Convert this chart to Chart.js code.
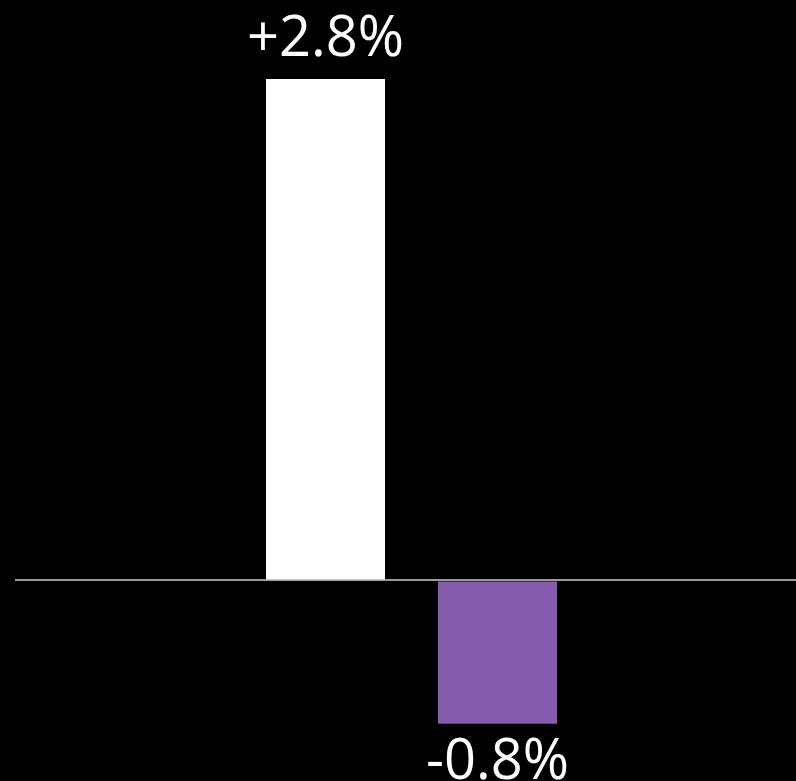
<!DOCTYPE html>
<html>
<head>
<meta charset="utf-8">
<script src="https://cdn.jsdelivr.net/npm/chart.js@4"></script>
<style>
  html, body { margin: 0; padding: 0; background: #000; }
  #wrap { width: 796px; height: 781px; position: relative; }
</style>
</head>
<body>
<div id="wrap"><canvas id="barChart"></canvas></div>
<script>
const categories = [''];
const seriesNames = ['Before', 'After'];
const seriesValues = [2.8, -0.8];
const seriesColors = ['#ffffff', '#855cad'];

// value labels: above positive bars, below negative ones
const valueLabels = {
    id: 'valueLabels',
    afterDatasetsDraw(chart) {
        const ctx = chart.ctx;
        ctx.save();
        ctx.fillStyle = '#ffffff';
        ctx.font = '56px "Open Sans"';
        ctx.textAlign = 'center';
        ctx.textBaseline = 'alphabetic';
        chart.data.datasets.forEach((ds, i) => {
            chart.getDatasetMeta(i).data.forEach((bar, j) => {
                const v = ds.data[j];
                const text = (v > 0 ? '+' : '') + v.toFixed(1) + '%';
                if (v >= 0) {
                    ctx.fillText(text, bar.x, bar.y - 23);
                } else {
                    ctx.fillText(text, bar.x, bar.y + 55);
                }
            });
        });
        ctx.restore();
    }
};

const ctx = document.getElementById('barChart');

new Chart(ctx, {
    type: 'bar',
    data: {
        labels: categories,
        datasets: seriesNames.map((name, i) => ({
            label: name,
            data: [seriesValues[i]],
            backgroundColor: seriesColors[i],
            borderWidth: 0,
            categoryPercentage: 0.4473,
            barPercentage: 0.692
        }))
    },
    options: {
        responsive: true,
        maintainAspectRatio: false,
        animation: false,
        layout: {
            padding: { left: 15, right: 0, top: 0, bottom: 0 }
        },
        plugins: {
            legend: { display: false },
            tooltip: { enabled: false }
        },
        scales: {
            x: { display: false },
            y: {
                min: -1.1195,
                max: 3.241,
                border: { display: false },
                ticks: { display: false, stepSize: 1 },
                grid: {
                    drawTicks: true,
                    tickLength: 12,
                    lineWidth: 2,
                    color: (c) => c.tick && c.tick.value === 0 ? '#9a9a9a' : 'transparent'
                }
            }
        }
    },
    plugins: [valueLabels]
});
</script>
</body>
</html>
